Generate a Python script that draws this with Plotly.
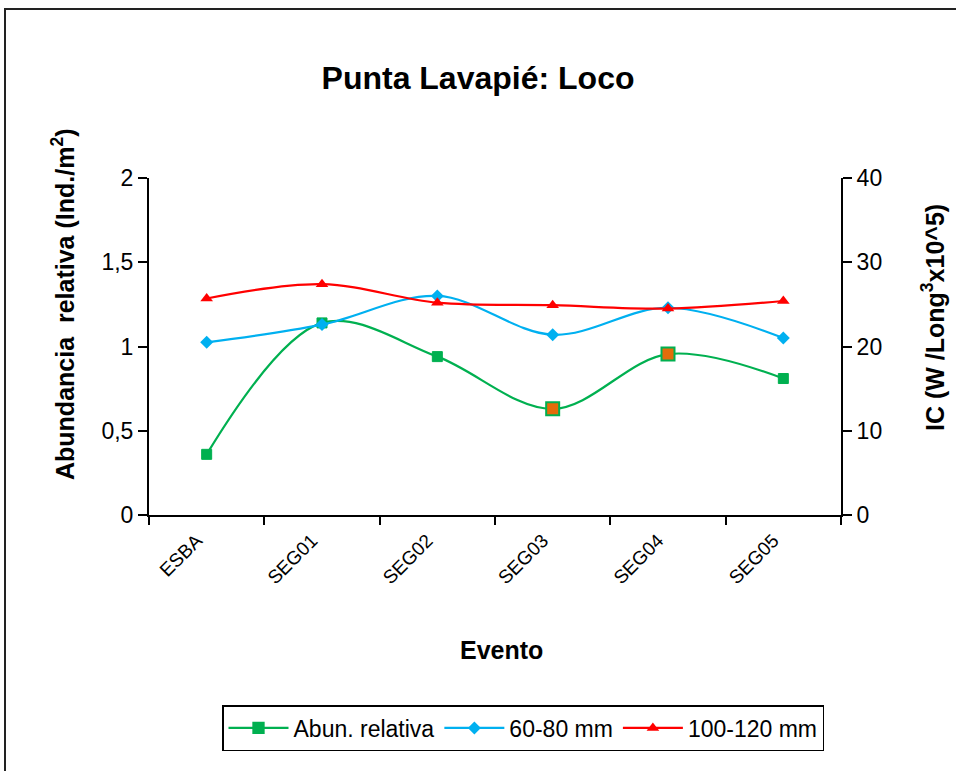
import plotly.graph_objects as go

categories = ["ESBA", "SEG01", "SEG02", "SEG03", "SEG04", "SEG05"]
abun_relativa = [0.36, 1.14, 0.94, 0.63, 0.955, 0.81]
ic_60_80 = [20.5, 22.6, 26.0, 21.4, 24.6, 21.0]
ic_100_120 = [25.7, 27.4, 25.2, 24.9, 24.5, 25.4]
highlight = [False, False, False, True, True, False]

GREEN = "#00B050"
BLUE = "#00B0F0"
RED = "#FF0000"
ORANGE = "#E46C0A"

fig = go.Figure()

fig.add_trace(go.Scatter(
    x=categories, y=abun_relativa, name="Abun. relativa",
    mode="lines+markers",
    line=dict(color=GREEN, width=2.2, shape="spline", smoothing=1),
    marker=dict(symbol="square", opacity=1,
                color=[ORANGE if h else GREEN for h in highlight],
                size=[13 if h else 10 for h in highlight],
                line=dict(color=GREEN, width=[2 if h else 1 for h in highlight])),
))
fig.add_trace(go.Scatter(
    x=categories, y=ic_60_80, name="60-80 mm", yaxis="y2",
    mode="lines+markers",
    line=dict(color=BLUE, width=2.2, shape="spline", smoothing=1),
    marker=dict(symbol="diamond", color=BLUE, size=10, opacity=1),
))
fig.add_trace(go.Scatter(
    x=categories, y=ic_100_120, name="100-120 mm", yaxis="y2",
    mode="lines+markers",
    line=dict(color=RED, width=2.2, shape="spline", smoothing=1),
    marker=dict(symbol="triangle-up", color=RED, size=11, opacity=1),
))

FONT = "Liberation Sans, Arial, sans-serif"
L, R, T, B = 149, 841, 178, 515
W, H = 956, 771

def px_x(p):
    return (p - L) / (R - L)

def px_y(p):
    return (B - p) / (B - T)

fig.update_layout(
    width=W, height=H,
    margin=dict(l=L, r=W - R, t=T, b=H - B),
    paper_bgcolor="white", plot_bgcolor="white",
    separators=",.",
    font=dict(family=FONT, color="black", size=23),
    showlegend=True,
    legend=dict(orientation="h", x=px_x(222), y=px_y(705), xanchor="left", yanchor="top",
                bordercolor="black", borderwidth=1.5, font=dict(size=23),
                itemwidth=60, tracegroupgap=0),
    xaxis=dict(type="category", range=[-0.5, 5.5], showline=True, linecolor="black", linewidth=2,
               ticks="outside", tickson="boundaries", ticklen=8, tickwidth=2, tickcolor="black",
               tickangle=-45, tickfont=dict(size=19), showgrid=False, zeroline=False,
               ticklabelshift=-10, ticklabelstandoff=5),
    yaxis=dict(range=[0, 2], dtick=0.5, showline=True, linecolor="black", linewidth=2,
               ticks="outside", ticklen=9, tickwidth=2, tickcolor="black",
               showgrid=False, zeroline=False, tickfont=dict(size=23)),
    yaxis2=dict(range=[0, 40], dtick=10, overlaying="y", side="right", showline=True,
                linecolor="black", linewidth=2, ticks="outside", ticklen=9, tickwidth=2,
                tickcolor="black", showgrid=False, zeroline=False, tickfont=dict(size=23)),
    title=dict(text="<b>Punta Lavapié: Loco</b>", x=px_x(478), xref="paper", xanchor="center",
               y=1 - 78 / H, yanchor="middle", font=dict(size=32)),
    shapes=[dict(type="rect", xref="paper", yref="paper",
                 x0=px_x(5), x1=px_x(990), y0=px_y(800), y1=px_y(9),
                 line=dict(color="#222", width=2))],
    annotations=[
        dict(text="<b>Abundancia\u00a0 relativa (Ind./m<sup>2</sup>)</b>", xref="paper", yref="paper",
             x=px_x(63), y=px_y(305), textangle=-90, showarrow=False,
             xanchor="center", yanchor="middle", font=dict(size=25)),
        dict(text="<b>IC (W /Long<sup>3</sup>x10^5)</b>", xref="paper", yref="paper",
             x=px_x(933), y=px_y(318), textangle=-90, showarrow=False,
             xanchor="center", yanchor="middle", font=dict(size=25)),
        dict(text="<b>Evento</b>", xref="paper", yref="paper",
             x=px_x(501), y=px_y(650), showarrow=False,
             xanchor="center", yanchor="middle", font=dict(size=25)),
    ],
)

fig.write_html("out.html", config={"displayModeBar": False},
               post_script="document.body.style.margin='0px';")
